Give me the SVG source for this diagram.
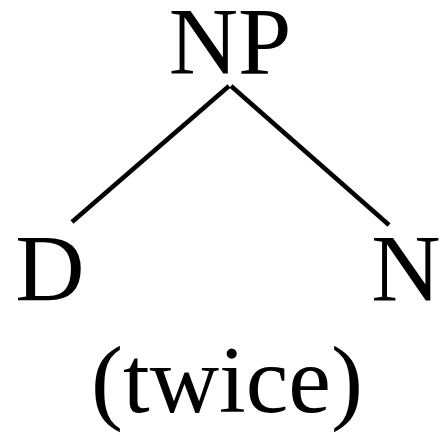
<svg xmlns="http://www.w3.org/2000/svg" width="441" height="435" viewBox="0 0 441 435">
<style>
text{font-family:"Liberation Serif","Times New Roman",serif;font-size:96px;fill:#000;text-anchor:middle}
.edge{stroke:#000;stroke-width:4.5;fill:none}
</style>
<rect width="441" height="435" fill="#fff"/>
<g id="connectors">
<line class="edge" x1="229" y1="86" x2="72" y2="222"/>
<line class="edge" x1="231" y1="86" x2="389" y2="225"/>
</g>
<g id="NP"><text x="230" y="74">NP</text></g>
<g id="D"><text x="50" y="301">D</text></g>
<g id="N"><text x="406" y="301">N</text></g>
<g id="twice"><text x="227" y="412">(twice)</text></g>
</svg>
